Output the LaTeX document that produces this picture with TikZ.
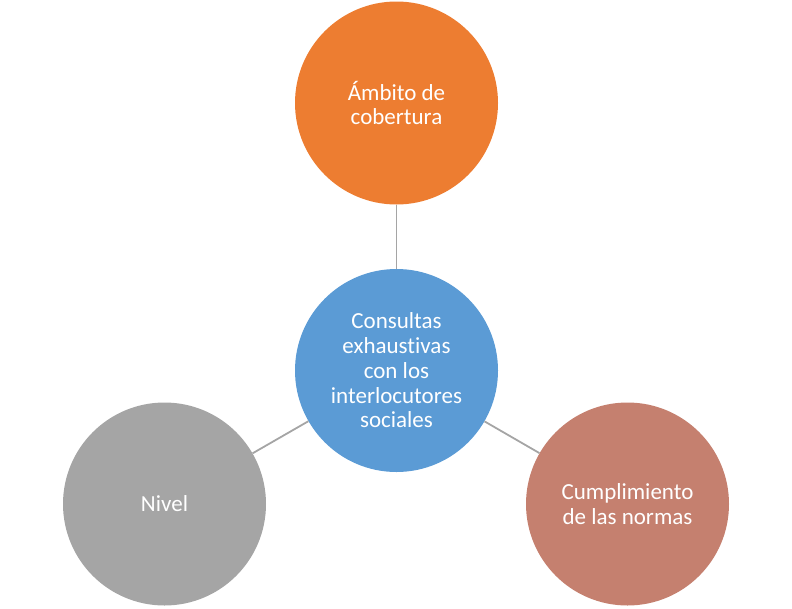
\documentclass[tikz,border=0pt]{standalone}
\usepackage{fontspec}
\setmainfont{Carlito}[Ligatures=NoCommon]
\definecolor{corange}{HTML}{ED7D31}
\definecolor{cblue}{HTML}{5B9BD5}
\definecolor{cgray}{HTML}{A5A5A5}
\definecolor{crose}{HTML}{C5806F}
\definecolor{clink}{HTML}{A5A5A5}
\tikzset{
  bubble/.style={circle, minimum size=203pt, inner sep=0pt, text=white, align=center,
    font=\fontsize{23}{24.75}\selectfont},
  link/.style={draw=clink, line width=1.8pt}
}
\begin{document}
\begin{tikzpicture}[x=1pt,y=-1pt]
\useasboundingbox (0,0) rectangle (792,608);
\node[bubble, fill=corange] (top) at (396.5,103) {Ámbito de\\cobertura};
\node[bubble, fill=cblue] (mid) at (396.5,370.5) {Consultas\\exhaustivas\\con los\\interlocutores\\sociales};
\node[bubble, fill=cgray] (left) at (164.5,504) {Nivel};
\node[bubble, fill=crose] (right) at (627.5,504) {Cumplimiento\\de las normas};
\draw[link] (mid) -- (top);
\draw[link] (mid) -- (left);
\draw[link] (mid) -- (right);
\end{tikzpicture}
\end{document}
